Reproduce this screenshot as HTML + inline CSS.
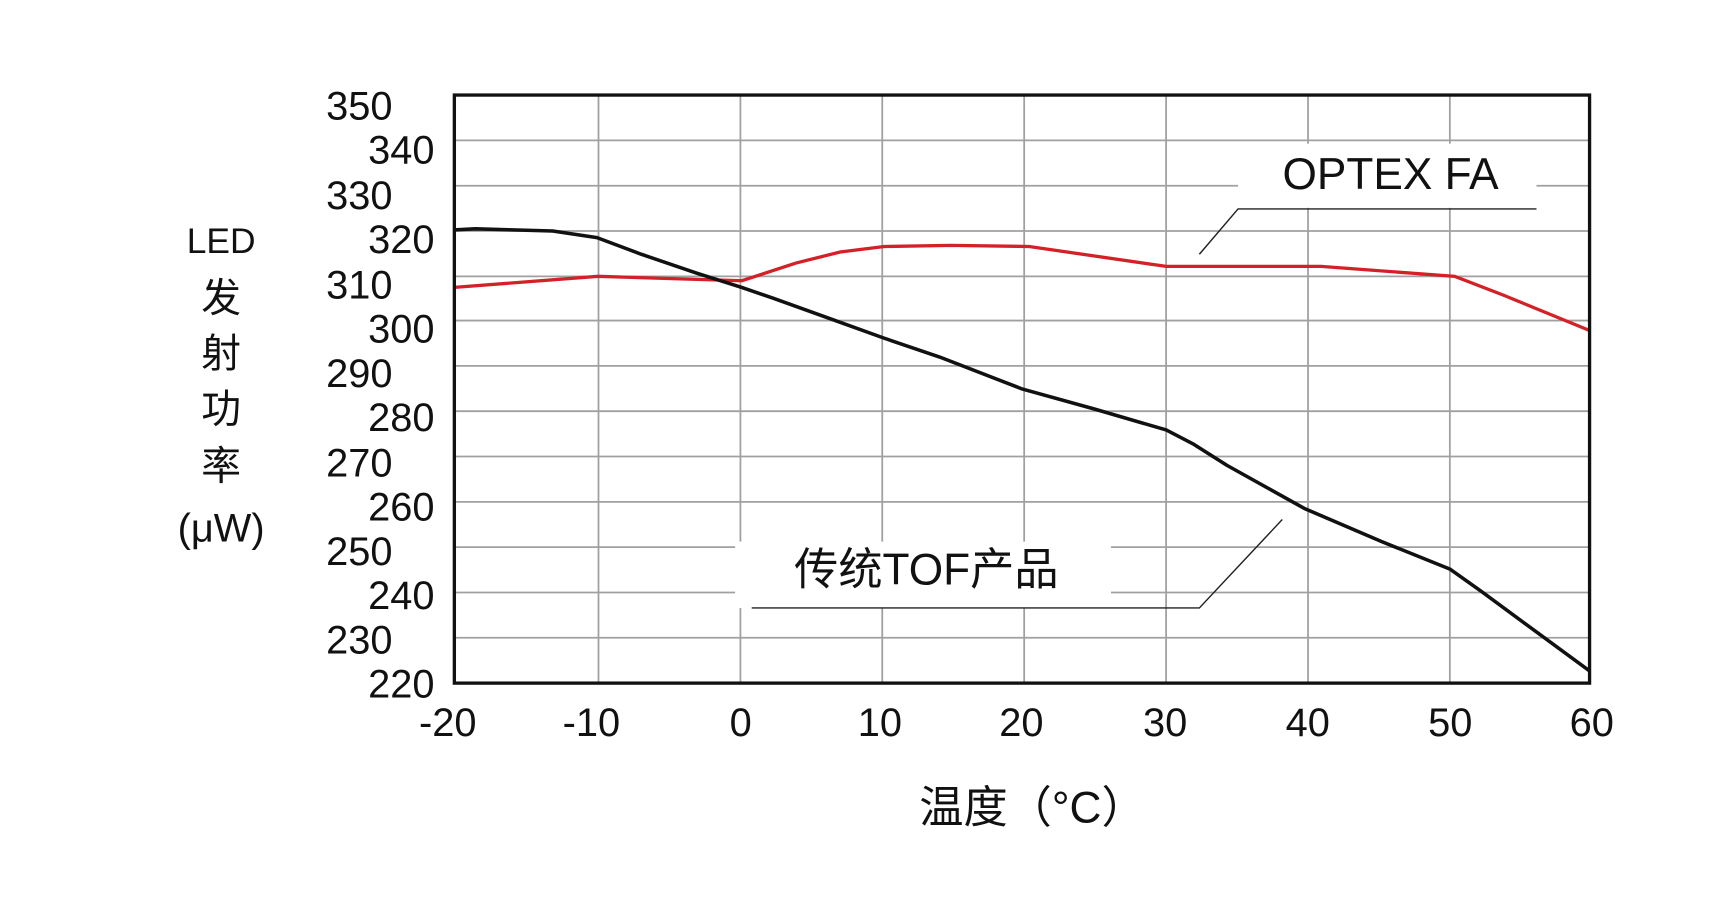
<!DOCTYPE html>
<html><head><meta charset="utf-8"><style>html,body{margin:0;padding:0;background:#fff}svg{display:block}</style></head>
<body>
<svg width="1730" height="898" viewBox="0 0 1565 812.4" xmlns="http://www.w3.org/2000/svg" font-family="'Liberation Sans','Noto Sans CJK SC',sans-serif">
<rect width="1565" height="812.4" fill="#fff"/>
<g stroke="#a0a0a0" stroke-width="1.6">
<line x1="541.4" y1="86" x2="541.4" y2="618"/><line x1="669.8" y1="86" x2="669.8" y2="618"/><line x1="798.1" y1="86" x2="798.1" y2="618"/><line x1="926.5" y1="86" x2="926.5" y2="618"/><line x1="1054.9" y1="86" x2="1054.9" y2="618"/><line x1="1183.3" y1="86" x2="1183.3" y2="618"/><line x1="1311.6" y1="86" x2="1311.6" y2="618"/>
<line x1="411" y1="127" x2="1438" y2="127"/><line x1="411" y1="168" x2="1438" y2="168"/><line x1="411" y1="209" x2="1438" y2="209"/><line x1="411" y1="250" x2="1438" y2="250"/><line x1="411" y1="290" x2="1438" y2="290"/><line x1="411" y1="331" x2="1438" y2="331"/><line x1="411" y1="372" x2="1438" y2="372"/><line x1="411" y1="413" x2="1438" y2="413"/><line x1="411" y1="454" x2="1438" y2="454"/><line x1="411" y1="495" x2="1438" y2="495"/><line x1="411" y1="536" x2="1438" y2="536"/><line x1="411" y1="577" x2="1438" y2="577"/>
</g>
<rect x="1120" y="130" width="270" height="58" fill="#fff"/>
<rect x="665" y="490" width="340" height="60" fill="#fff"/>
<polyline fill="none" stroke="#d42027" stroke-width="3" points="411,260 541,250 671,254 720,238 760,228 800,223 860,222 931,223 1055,241 1195,241 1316,250 1360,267 1438,299"/>
<polyline fill="none" stroke="#111" stroke-width="3.2" stroke-linejoin="round" points="411,208 430,207 500,209 540,215 580,230 630,247 671,260 700,270 750,288 800,306 850,323 925,352 990,370 1055,389 1080,402 1110,421 1180,460 1250,490 1312,515 1340,535 1438,607"/>
<polyline fill="none" stroke="#222" stroke-width="1.3" points="1085,230 1120,189 1390,189"/>
<polyline fill="none" stroke="#222" stroke-width="1.3" points="680,550 1085,550 1160,470"/>
<rect x="411" y="86" width="1027" height="532" fill="none" stroke="#111" stroke-width="3"/>
<g font-size="36" fill="#111" text-anchor="end">
<text x="355" y="108">350</text><text x="393" y="148">340</text><text x="355" y="189">330</text><text x="393" y="229">320</text><text x="355" y="270">310</text><text x="393" y="310">300</text><text x="355" y="350">290</text><text x="393" y="390">280</text><text x="355" y="431">270</text><text x="393" y="471">260</text><text x="355" y="511">250</text><text x="393" y="551">240</text><text x="355" y="591">230</text><text x="393" y="631">220</text>
</g>
<g font-size="36" fill="#111" text-anchor="middle">
<text x="405" y="666">-20</text><text x="535" y="666">-10</text><text x="670" y="666">0</text><text x="796" y="666">10</text><text x="924" y="666">20</text><text x="1054" y="666">30</text><text x="1183" y="666">40</text><text x="1312" y="666">50</text><text x="1440" y="666">60</text>
<text x="200" y="229" font-size="32">LED</text>
<text x="200" y="282">发</text><text x="200" y="332">射</text><text x="200" y="382">功</text><text x="200" y="434">率</text>
<text x="200" y="490">(μW)</text>
<text x="934" y="744" font-size="40">温度（°C）</text>
<text x="1258" y="171" font-size="40">OPTEX FA</text>
<text x="838" y="529" font-size="40">传统TOF产品</text>
</g>
</svg>
</body></html>
